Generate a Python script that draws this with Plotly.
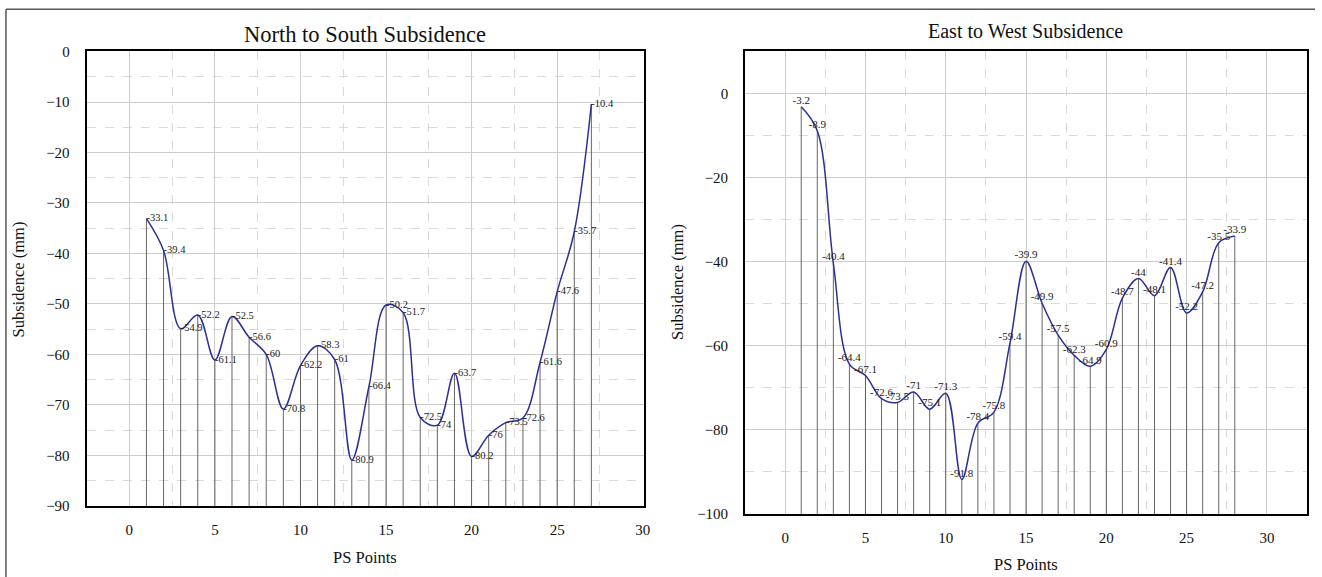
import plotly.graph_objects as go

# ---------------- data ----------------
ns_points = list(range(1, 28))
ns_values = [-33.1, -39.4, -54.9, -52.2, -61.1, -52.5, -56.6, -60, -70.8, -62.2,
             -58.3, -61, -80.9, -66.4, -50.2, -51.7, -72.5, -74, -63.7, -80.2,
             -76, -73.5, -72.6, -61.6, -47.6, -35.7, -10.4]

ew_points = list(range(1, 29))
ew_values = [-3.2, -8.9, -40.4, -64.4, -67.1, -72.6, -73.5, -71, -75.1, -71.3,
             -91.8, -78.4, -75.8, -59.4, -39.9, -49.9, -57.5, -62.3, -64.9, -60.9,
             -48.7, -44, -48.1, -41.4, -52.2, -47.2, -35.5, -33.9]

ns_title = "North to South Subsidence"
ew_title = "East to West Subsidence"
x_title = "PS Points"
y_title = "Subsidence (mm)"

# ---------------- style ----------------
Y_OFF, Y_SCALE = 8, 0.973   # observed page placement of the figure
W = 1322
H = 585
FONT = "Liberation Serif, Times New Roman, serif"
LINE_COLOR = "#2e2e96"
DROP_COLOR = "#555555"
GRID = "#cccccc"
MINOR_GRID = "#dadada"

NS_YMIN, NS_YMAX = -90, 0
EW_YMIN, EW_YMAX = -100, 10


def px_x(p):
    return max(0.0, min(1.0, p / W))


def px_y(p):
    yf = p / Y_SCALE - Y_OFF
    return max(0.0, min(1.0, 1 - yf / H))


def drops(xs, ys, base):
    dx, dy = [], []
    for x, y in zip(xs, ys):
        dx += [x, x, None]
        dy += [y, base, None]
    return dx, dy


fig = go.Figure()

# Left chart
dx, dy = drops(ns_points, ns_values, NS_YMIN)
fig.add_trace(go.Scatter(x=dx, y=dy, mode="lines", xaxis="x", yaxis="y",
                         line=dict(color=DROP_COLOR, width=0.9), hoverinfo="skip",
                         showlegend=False))
fig.add_trace(go.Scatter(x=ns_points, y=ns_values, mode="lines+text", xaxis="x", yaxis="y",
                         line=dict(color=LINE_COLOR, width=1.5, shape="spline", smoothing=1),
                         text=[f"{v:g}" for v in ns_values], textposition="middle right",
                         textfont=dict(family=FONT, size=10.5, color="#222"),
                         showlegend=False))

# Right chart
dx, dy = drops(ew_points, ew_values, EW_YMIN)
fig.add_trace(go.Scatter(x=dx, y=dy, mode="lines", xaxis="x2", yaxis="y2",
                         line=dict(color=DROP_COLOR, width=0.9), hoverinfo="skip",
                         showlegend=False))
fig.add_trace(go.Scatter(x=ew_points, y=ew_values, mode="lines+text", xaxis="x2", yaxis="y2",
                         line=dict(color=LINE_COLOR, width=1.5, shape="spline", smoothing=1),
                         text=[f"{v:g}" for v in ew_values], textposition="top center",
                         textfont=dict(family=FONT, size=11, color="#222"),
                         showlegend=False))

axis_common = dict(
    showline=True, linecolor="black", linewidth=1.8, mirror=True,
    showgrid=True, gridcolor=GRID, gridwidth=1,
    zeroline=False, ticks="",
    tickfont=dict(family=FONT, size=15, color="#111"),
)

fig.update_layout(
    width=W, height=H,
    margin=dict(l=0, r=0, t=0, b=0),
    paper_bgcolor="white", plot_bgcolor="white",
    font=dict(family=FONT, color="#111"),
    xaxis=dict(**axis_common, domain=[px_x(87), px_x(647)], range=[-2.5, 30.05],
               dtick=5, tick0=0, ticklabelstandoff=9, anchor="y",
               minor=dict(dtick=2.5, showgrid=True, gridcolor=MINOR_GRID, griddash="dash", gridwidth=0.8)),
    yaxis=dict(**axis_common, domain=[px_y(506), px_y(52)], range=[NS_YMIN, NS_YMAX + 0.05],
               dtick=10, tick0=0, ticklabelstandoff=12, anchor="x",
               minor=dict(dtick=5, showgrid=True, gridcolor=MINOR_GRID, griddash="dash", gridwidth=0.8)),
    xaxis2=dict(**axis_common, domain=[px_x(749), px_x(1314)], range=[-2.5, 32.5],
                dtick=5, tick0=0, ticklabelstandoff=9, anchor="y2",
                minor=dict(dtick=2.5, showgrid=True, gridcolor=MINOR_GRID, griddash="dash", gridwidth=0.8)),
    yaxis2=dict(**axis_common, domain=[px_y(514), px_y(52)], range=[EW_YMIN, EW_YMAX],
                dtick=20, tick0=0, ticklabelstandoff=12, anchor="x2",
                minor=dict(dtick=10, showgrid=True, gridcolor=MINOR_GRID, griddash="dash", gridwidth=0.8)),
)


def label(text, x, y, size, angle=0):
    return dict(text=text, x=px_x(x), y=px_y(y), xref="paper", yref="paper",
                xanchor="center", yanchor="middle", showarrow=False, textangle=angle,
                font=dict(family=FONT, size=size, color="#111"))


fig.update_layout(annotations=[
    label(ns_title, 367, 35, 22.5),
    label(ew_title, 1031, 32, 20),
    label(x_title, 367, 558, 16.5),
    label(x_title, 1031, 565, 16.5),
    label(y_title, 19, 280, 16.5, -90),
    label(y_title, 681, 282, 16.5, -90),
])

# outer frame (top and left edges)
fig.add_shape(type="line", xref="paper", yref="paper", x0=px_x(6), x1=1, y0=px_y(10), y1=px_y(10),
              line=dict(color="#555", width=1.5))
fig.add_shape(type="line", xref="paper", yref="paper", x0=px_x(6), x1=px_x(6), y0=px_y(10), y1=0,
              line=dict(color="#555", width=1.5))

fig.write_html("out.html")
